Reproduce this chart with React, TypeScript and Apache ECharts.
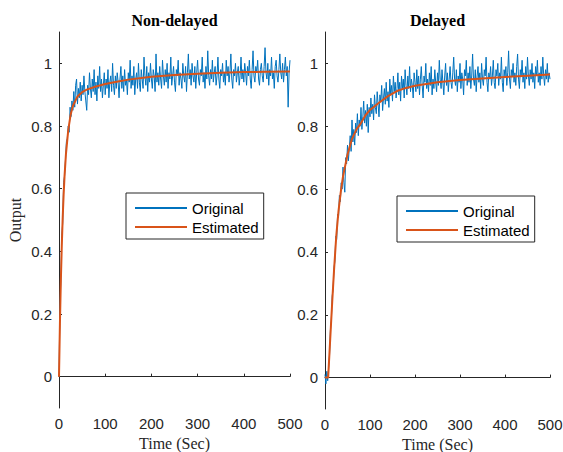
import React, { useEffect, useRef } from "react";
import * as echarts from "echarts";

// Sampling step of the measured (original) signals, seconds
const SAMPLE_STEP = 2;

// Non-delayed: measured output, one value every 2 s from 0 to 500 s
const originalNonDelayed = [
  0.00, 0.22, 0.31, 0.45, 0.49, 0.62, 0.64, 0.69, 0.75, 0.76,
  0.80, 0.78, 0.86, 0.83, 0.88, 0.85, 0.91, 0.86, 0.93, 0.95,
  0.87, 0.92, 0.89, 0.94, 0.88, 0.93, 0.90, 0.96, 0.91, 0.88,
  0.85, 0.93, 0.90, 0.97, 0.92, 0.89, 0.95, 0.91, 0.98, 0.90,
  0.94, 0.88, 0.96, 0.92, 0.99, 0.91, 0.95, 0.89, 0.93, 0.97,
  0.90, 0.95, 0.92, 0.98, 0.89, 0.94, 0.96, 0.91, 1.00, 0.93,
  0.90, 0.96, 0.92, 0.97, 0.94, 0.89, 0.95, 0.99, 0.92, 0.96,
  0.91, 0.98, 0.93, 0.95, 0.90, 0.97, 0.94, 1.01, 0.92, 0.96,
  0.93, 0.99, 0.90, 0.95, 0.97, 0.92, 1.00, 0.94, 0.91, 0.98,
  0.95, 0.92, 1.02, 0.96, 0.93, 0.99, 0.91, 0.97, 0.94, 1.00,
  0.95, 0.92, 0.98, 0.96, 0.91, 1.03, 0.94, 0.97, 0.93, 0.99,
  0.95, 0.92, 1.01, 0.96, 0.93, 0.98, 0.94, 1.00, 0.92, 0.97,
  0.95, 1.02, 0.93, 0.96, 0.99, 0.94, 0.91, 0.98, 0.96, 1.01,
  0.93, 0.97, 0.95, 0.92, 1.00, 0.96, 0.94, 0.99, 0.91, 0.97,
  1.03, 0.95, 0.98, 0.93, 1.00, 0.96, 0.94, 0.99, 0.92, 0.97,
  1.01, 0.95, 0.93, 0.98, 0.96, 1.02, 0.94, 0.97, 0.92, 0.99,
  0.95, 1.04, 0.96, 0.93, 0.98, 0.95, 1.01, 0.94, 0.97, 0.99,
  0.93, 0.96, 1.02, 0.95, 0.92, 0.98, 0.96, 1.00, 0.94, 0.97,
  0.93, 1.01, 0.96, 0.99, 0.94, 0.97, 1.03, 0.95, 0.92, 0.98,
  0.96, 1.00, 0.94, 0.97, 0.99, 0.93, 0.96, 1.02, 0.95, 0.98,
  0.94, 1.00, 0.97, 0.93, 0.99, 0.96, 1.01, 0.95, 0.92, 0.98,
  1.04, 0.96, 0.94, 0.99, 0.97, 1.01, 0.95, 0.93, 0.98, 1.00,
  0.96, 0.94, 0.99, 1.05, 0.97, 0.95, 1.00, 0.93, 0.98, 0.96,
  1.02, 0.95, 0.97, 0.92, 0.99, 1.01, 0.96, 0.94, 0.98, 1.03,
  0.97, 0.95, 1.00, 0.94, 0.98, 1.02, 0.96, 0.99, 0.86, 0.97,
  1.01,
];

// Non-delayed: estimated model response
const estTimeNonDelayed = [
  0, 2, 4, 6, 8, 10, 12, 15, 20, 25, 30, 40, 50, 60, 80, 100, 125, 150,
  200, 250, 300, 350, 400, 450, 500,
];
const estNonDelayed = [
  0, 0.169, 0.306, 0.416, 0.507, 0.581, 0.64, 0.71, 0.787, 0.835, 0.864,
  0.894, 0.908, 0.916, 0.926, 0.934, 0.941, 0.948, 0.957, 0.963, 0.967,
  0.97, 0.972, 0.973, 0.974,
];

// Delayed: measured output, one value every 2 s from 0 to 500 s
const originalDelayed = [
  0.01, -0.02, 0.02, -0.01, 0.03, 0.07, 0.15, 0.18, 0.26, 0.28,
  0.35, 0.37, 0.45, 0.44, 0.52, 0.51, 0.58, 0.56, 0.62, 0.60,
  0.67, 0.62, 0.59, 0.70, 0.68, 0.74, 0.69, 0.73, 0.77, 0.72,
  0.82, 0.75, 0.79, 0.74, 0.81, 0.78, 0.84, 0.77, 0.82, 0.80,
  0.86, 0.79, 0.83, 0.88, 0.81, 0.85, 0.80, 0.87, 0.78, 0.86,
  0.83, 0.89, 0.84, 0.87, 0.82, 0.90, 0.86, 0.84, 0.91, 0.87,
  0.83, 0.90, 0.88, 0.93, 0.85, 0.89, 0.92, 0.87, 0.94, 0.88,
  0.91, 0.86, 0.95, 0.90, 0.93, 0.88, 0.96, 0.91, 0.94, 0.89,
  0.92, 0.97, 0.90, 0.94, 0.88, 0.96, 0.92, 0.95, 0.89, 0.98,
  0.93, 0.90, 0.96, 0.92, 0.99, 0.91, 0.95, 0.93, 0.89, 0.97,
  0.94, 0.91, 0.98, 0.92, 0.96, 0.90, 0.95, 0.99, 0.93, 0.89,
  0.96, 0.94, 1.00, 0.92, 0.95, 0.91, 0.97, 0.93, 0.99, 0.90,
  0.95, 0.92, 0.98, 0.94, 0.91, 0.97, 0.93, 1.01, 0.95, 0.92,
  0.98, 0.94, 0.90, 0.96, 1.00, 0.93, 0.97, 0.91, 0.95, 0.99,
  0.94, 0.92, 0.97, 1.02, 0.95, 0.93, 0.98, 0.91, 0.96, 0.94,
  1.00, 0.92, 0.97, 0.95, 0.90, 0.98, 0.96, 1.01, 0.93, 0.97,
  0.94, 0.99, 0.92, 0.96, 1.03, 0.95, 0.93, 0.98, 0.91, 0.96,
  0.99, 0.94, 0.97, 0.92, 1.00, 0.95, 0.93, 0.98, 0.96, 1.02,
  0.94, 0.91, 0.97, 0.95, 0.99, 0.93, 0.96, 1.01, 0.94, 0.92,
  0.98, 0.96, 1.00, 0.93, 0.97, 0.95, 1.02, 0.94, 0.91, 0.98,
  0.96, 0.99, 0.93, 0.97, 1.04, 0.95, 0.92, 0.98, 0.96, 1.00,
  0.94, 0.97, 0.93, 0.99, 1.03, 0.95, 0.92, 0.98, 0.96, 1.01,
  0.94, 0.97, 0.92, 0.99, 0.95, 1.02, 0.96, 0.93, 0.98, 0.95,
  1.00, 0.94, 0.97, 0.92, 0.99, 0.96, 1.01, 0.94, 0.97, 0.93,
  0.99, 0.95, 1.02, 0.96, 0.93, 0.98, 0.95, 1.00, 0.94, 0.97,
  0.95,
];

// Delayed: estimated model response
const estTimeDelayed = [
  0, 5, 7, 10, 13, 16, 20, 25, 30, 35, 40, 50, 60, 70, 80, 90, 100, 120,
  140, 160, 180, 200, 250, 300, 350, 400, 450, 500,
];
const estDelayed = [
  0, 0, 0, 0.08, 0.16, 0.24, 0.34, 0.45, 0.53, 0.59, 0.64, 0.71, 0.76,
  0.79, 0.81, 0.835, 0.852, 0.875, 0.896, 0.912, 0.922, 0.929, 0.94,
  0.947, 0.952, 0.957, 0.961, 0.965,
];

// Axis ticks
const xTicks = [0, 100, 200, 300, 400, 500];
const yTicks = [0, 0.2, 0.4, 0.6, 0.8, 1];

const titles = ["Non-delayed", "Delayed"];
const seriesNames = ["Original", "Estimated"];

const BLUE = "#0072BD";
const ORANGE = "#D95319";
const AXIS = "#262626";
const SANS = "'Liberation Sans', Arial, sans-serif";
const SERIF = "'Liberation Serif', 'Times New Roman', serif";

function pairsFromSamples(values: number[]) {
  return values.map((v, i) => [i * SAMPLE_STEP, v]);
}
function pairs(times: number[], values: number[]) {
  return times.map((t, i) => [t, values[i]]);
}

export default function App() {
  const ref = useRef<HTMLDivElement>(null);

  useEffect(() => {
    if (!ref.current) return;
    const chart = echarts.init(ref.current, undefined, { renderer: "svg" });

    const xAxisBase = (gridIndex: number, gap: number) => ({
      type: "value" as const,
      gridIndex,
      min: xTicks[0],
      max: xTicks[xTicks.length - 1],
      interval: 100,
      name: "Time (Sec)",
      nameLocation: "middle" as const,
      nameGap: gap,
      nameTextStyle: { fontFamily: SERIF, fontSize: 16, color: AXIS },
      axisLine: { show: true, lineStyle: { color: AXIS, width: 1 } },
      axisTick: { show: true, inside: true, length: 3, lineStyle: { color: AXIS } },
      axisLabel: { fontFamily: SANS, fontSize: 15, color: AXIS, margin: 8 },
      splitLine: { show: false },
    });

    const yAxisBase = (gridIndex: number) => ({
      type: "value" as const,
      gridIndex,
      min: -0.1,
      max: 1.1,
      axisLine: { show: true, onZero: false, lineStyle: { color: AXIS, width: 1 } },
      axisTick: {
        show: true,
        inside: true,
        length: 3,
        lineStyle: { color: AXIS },
        customValues: yTicks,
      },
      axisLabel: {
        fontFamily: SANS,
        fontSize: 15,
        color: AXIS,
        margin: 7,
        customValues: yTicks,
      },
      splitLine: { show: false },
    });

    const legendBase = (left: number, top: number) => ({
      data: seriesNames,
      orient: "vertical" as const,
      left,
      top,
      icon: "rect",
      itemWidth: 52,
      itemHeight: 2,
      itemGap: 1,
      padding: [6, 5, 3, 9],
      borderColor: AXIS,
      borderWidth: 1,
      backgroundColor: "#ffffff",
      selectedMode: false,
      textStyle: { fontFamily: SANS, fontSize: 15, color: "#000", lineHeight: 18 },
    });

    chart.setOption({
      animation: false,
      backgroundColor: "#ffffff",
      grid: [
        { left: 59, top: 32, width: 231, height: 376, containLabel: false, outerBoundsMode: "none" },
        { left: 325, top: 32, width: 225, height: 377, containLabel: false, outerBoundsMode: "none" },
      ],
      xAxis: [xAxisBase(0, 27), xAxisBase(1, 26)],
      yAxis: [
        {
          ...yAxisBase(0),
          name: "Output",
          nameLocation: "middle",
          nameGap: 36,
          nameTextStyle: { fontFamily: SERIF, fontSize: 16, color: AXIS },
        },
        yAxisBase(1),
      ],
      legend: [legendBase(126, 193), legendBase(397, 196)],
      graphic: [
        {
          type: "text",
          x: 174.5,
          y: 20,
          style: {
            text: titles[0],
            font: `bold 16px ${SERIF}`,
            fill: "#000",
            align: "center",
            verticalAlign: "middle",
          },
        },
        {
          type: "text",
          x: 437.5,
          y: 20,
          style: {
            text: titles[1],
            font: `bold 16px ${SERIF}`,
            fill: "#000",
            align: "center",
            verticalAlign: "middle",
          },
        },
      ],
      series: [
        {
          name: seriesNames[0],
          type: "line",
          xAxisIndex: 0,
          yAxisIndex: 0,
          data: pairsFromSamples(originalNonDelayed),
          symbol: "none",
          lineStyle: { color: BLUE, width: 1 },
          itemStyle: { color: BLUE },
        },
        {
          name: seriesNames[1],
          type: "line",
          xAxisIndex: 0,
          yAxisIndex: 0,
          data: pairs(estTimeNonDelayed, estNonDelayed),
          symbol: "none",
          lineStyle: { color: ORANGE, width: 2 },
          itemStyle: { color: ORANGE },
        },
        {
          name: seriesNames[0],
          type: "line",
          xAxisIndex: 1,
          yAxisIndex: 1,
          data: pairsFromSamples(originalDelayed),
          symbol: "none",
          lineStyle: { color: BLUE, width: 1 },
          itemStyle: { color: BLUE },
        },
        {
          name: seriesNames[1],
          type: "line",
          xAxisIndex: 1,
          yAxisIndex: 1,
          data: pairs(estTimeDelayed, estDelayed),
          symbol: "none",
          lineStyle: { color: ORANGE, width: 2 },
          itemStyle: { color: ORANGE },
        },
      ],
    });

    return () => chart.dispose();
  }, []);

  return (
    <div
      ref={ref}
      style={{ position: "absolute", left: 0, top: 0, width: 563, height: 452 }}
    />
  );
}
